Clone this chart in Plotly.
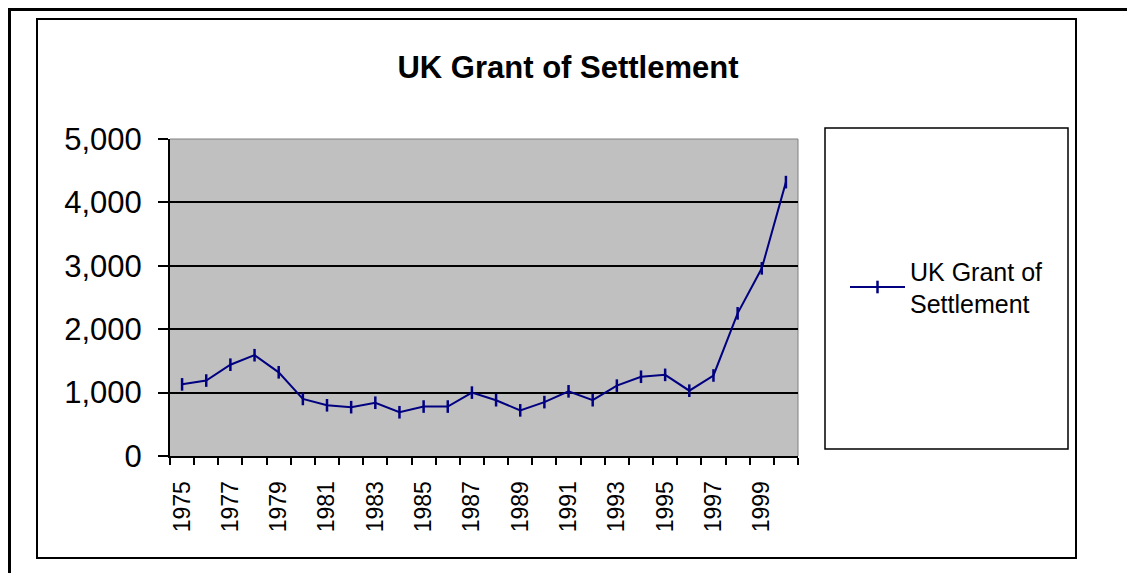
import plotly.graph_objects as go

# ---- data ----
years = list(range(1975, 2001))
grants = [1130, 1190, 1440, 1590, 1320, 900, 800, 770, 840, 690, 780, 780, 1000,
          880, 720, 850, 1020, 880, 1110, 1250, 1280, 1030, 1270, 2250, 2960, 4320]
tick_years = list(range(1975, 2000, 2))
series_name = "UK Grant of<br>Settlement"
title_text = "UK Grant of Settlement"

OFF = 8  # page body margin
W, H = 1135 - OFF, 573 - OFF
L, R, T, B = 170, 798, 139, 456  # plot area in page px

def px(x):
    return (x - L) / (R - L)

def py(y):
    return (B - y) / (B - T)

FONT = "Liberation Sans, Arial, sans-serif"
NAVY = "#000080"

fig = go.Figure()
fig.add_trace(go.Scatter(
    x=years, y=grants, mode="lines+markers", name=series_name,
    line=dict(color=NAVY, width=2),
    marker=dict(symbol="line-ns", size=9, line=dict(color=NAVY, width=2.5), color=NAVY),
))

shapes = [
    # outer thick frame (top + left)
    dict(type="line", xref="paper", yref="paper", x0=px(8), x1=px(1135), y0=py(9.5), y1=py(9.5),
         line=dict(color="black", width=3)),
    dict(type="line", xref="paper", yref="paper", x0=px(9.5), x1=px(9.5), y0=py(8), y1=py(573),
         line=dict(color="black", width=3)),
    # inner chart box
    dict(type="rect", xref="paper", yref="paper", x0=px(37), x1=px(1076), y0=py(19), y1=py(558),
         line=dict(color="black", width=2)),
    # legend box
    dict(type="rect", xref="paper", yref="paper", x0=px(825), x1=px(1068), y0=py(128), y1=py(449),
         line=dict(color="black", width=1.5)),
    # plot area gray border (top, right)
    dict(type="line", xref="paper", yref="paper", x0=0, x1=1, y0=1, y1=1,
         line=dict(color="#808080", width=1), layer="below"),
    dict(type="line", xref="paper", yref="paper", x0=1, x1=1, y0=0, y1=1,
         line=dict(color="#808080", width=1), layer="below"),
]

fig.update_layout(
    width=W, height=H,
    margin=dict(l=L - OFF, r=W - (R - OFF), t=T - OFF, b=H - (B - OFF), pad=0),
    paper_bgcolor="white",
    plot_bgcolor="#C0C0C0",
    font=dict(family=FONT, color="black"),
    title=dict(text="<b>" + title_text + "</b>", x=(568 - OFF) / W, xanchor="center",
               y=1 - (67 - OFF) / H, yanchor="middle", yref="container",
               font=dict(size=31, family=FONT, color="black")),
    showlegend=True,
    legend=dict(x=px(845), xanchor="left", y=py(287), yanchor="middle",
                bgcolor="rgba(0,0,0,0)", borderwidth=0,
                font=dict(size=25, family=FONT, color="black"), itemwidth=55),
    shapes=shapes,
    xaxis=dict(
        range=[1974.5, 2000.5], tickmode="array", tickvals=tick_years,
        ticktext=[str(y) for y in tick_years], tickangle=-90,
        ticks="outside", ticklen=0, tickfont=dict(size=23, family=FONT, color="black"),
        ticklabelstandoff=14,
        showgrid=False, zeroline=False, showline=True, linecolor="black", linewidth=2,
        minor=dict(ticks="outside", tick0=1974.5, dtick=1, ticklen=7, tickwidth=2,
                   tickcolor="black", showgrid=False),
    ),
    yaxis=dict(
        range=[0, 5000], dtick=1000, tickformat=",", ticks="outside", ticklen=10,
        tickwidth=2, tickcolor="black", tickfont=dict(size=31, family=FONT, color="black"),
        ticklabelstandoff=10,
        showgrid=True, gridcolor="black", gridwidth=1.5, zeroline=False,
        showline=True, linecolor="black", linewidth=2,
    ),
)

fig.write_html("out.html")
